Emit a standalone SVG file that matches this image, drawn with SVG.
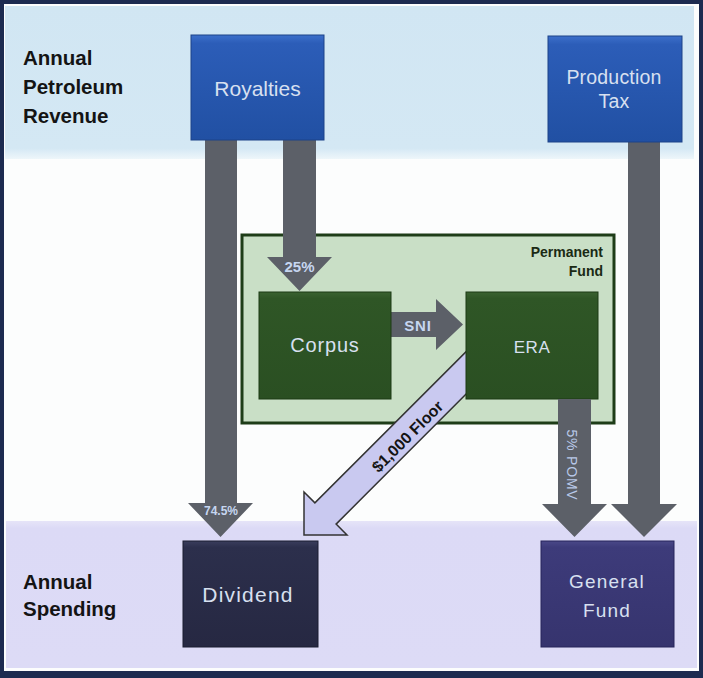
<svg xmlns="http://www.w3.org/2000/svg" width="703" height="678" viewBox="0 0 703 678">
<defs>
<linearGradient id="gBlue" x1="0" y1="0" x2="0" y2="1">
<stop offset="0" stop-color="#3c6fca"/><stop offset="0.08" stop-color="#2c5db8"/><stop offset="1" stop-color="#2150a3"/>
</linearGradient>
<linearGradient id="gGreen" x1="0" y1="0" x2="0" y2="1">
<stop offset="0" stop-color="#3a6230"/><stop offset="0.06" stop-color="#2f5626"/><stop offset="1" stop-color="#2a4f22"/>
</linearGradient>
<linearGradient id="gNavy" x1="0" y1="0" x2="0" y2="1">
<stop offset="0" stop-color="#3a3d5c"/><stop offset="0.06" stop-color="#2c2f4c"/><stop offset="1" stop-color="#262842"/>
</linearGradient>
<linearGradient id="gPurple" x1="0" y1="0" x2="0" y2="1">
<stop offset="0" stop-color="#4a4888"/><stop offset="0.06" stop-color="#3d3b7a"/><stop offset="1" stop-color="#36346e"/>
</linearGradient>
<linearGradient id="gTop" x1="0" y1="0" x2="0" y2="1">
<stop offset="0" stop-color="#d1e6f3"/><stop offset="0.93" stop-color="#d4e8f4"/><stop offset="1" stop-color="#eef6fa"/>
</linearGradient>
<linearGradient id="gBot" x1="0" y1="0" x2="0" y2="1">
<stop offset="0" stop-color="#e6e4f8"/><stop offset="0.05" stop-color="#dcdaf6"/><stop offset="1" stop-color="#dddbf6"/>
</linearGradient>
</defs>
<style>
.lbl{font-family:"Liberation Sans",Arial,sans-serif;font-weight:bold;fill:#141414;font-size:20.5px}
.box{font-family:"Liberation Sans",Arial,sans-serif;text-anchor:middle;fill:#d8e0f0}
.arrow{fill:#5c6068}
.atxt{font-family:"Liberation Sans",Arial,sans-serif;font-weight:bold;text-anchor:middle;fill:#c6d6f0}
</style>
<rect x="0" y="0" width="703" height="678" fill="#1d2b50"/>
<rect x="4" y="4" width="695" height="667" fill="#fcfdfd"/>
<rect x="5" y="6" width="689" height="153" fill="url(#gTop)"/>
<rect x="6" y="521" width="691" height="147" fill="url(#gBot)"/>

<g id="lbl-revenue">
<text class="lbl" x="23" y="65">Annual</text>
<text class="lbl" x="23" y="94">Petroleum</text>
<text class="lbl" x="23" y="123">Revenue</text>
</g>
<g id="lbl-spending">
<text class="lbl" x="23" y="589">Annual</text>
<text class="lbl" x="23" y="616">Spending</text>
</g>

<g id="permanent-fund">
<rect x="242" y="235" width="372" height="188" fill="#c9dfc6" stroke="#1e3d18" stroke-width="3"/>
<text x="603" y="257" text-anchor="end" font-family="Liberation Sans,Arial,sans-serif" font-weight="bold" font-size="14" fill="#1a2a14">Permanent</text>
<text x="603" y="276" text-anchor="end" font-family="Liberation Sans,Arial,sans-serif" font-weight="bold" font-size="14" fill="#1a2a14">Fund</text>
</g>

<g id="connectors">
<path class="arrow" d="M205,140 H237 V503 H253 L220.5,537 L188,503 H205 Z"/>
<path class="arrow" d="M283,140 H316 V257 H332 L299.5,291 L267,257 H283 Z"/>
<path class="arrow" d="M628,142 H660 V504 H677 L644,537 L611,504 H628 Z"/>
<path class="arrow" d="M391,312 H436 V299 L463,324.5 L436,350 V337 H391 Z"/>
<path d="M304,535 L304,492 L314.9,502.9 L474.9,342.9 L496.1,364.1 L336.1,524.1 L347,535 Z" fill="#c9c9f0" stroke="#333" stroke-width="1.5" stroke-linejoin="miter"/>
<text class="atxt" x="221" y="515" font-size="12">74.5%</text>
<text class="atxt" x="299.5" y="272" font-size="15">25%</text>
<text class="atxt" x="418" y="331" font-size="15" letter-spacing="0.8">SNI</text>
<text transform="translate(407.5,436.5) rotate(-45)" x="0" y="5.5" text-anchor="middle" font-family="Liberation Sans,Arial,sans-serif" font-weight="bold" font-size="16" fill="#141414">$1,000 Floor</text>
</g>

<g id="royalties">
<rect x="191" y="35" width="133" height="105" fill="url(#gBlue)" stroke="#1d4288" stroke-width="1"/>
<text class="box" x="257.5" y="96" font-size="21">Royalties</text>
</g>
<g id="production-tax">
<rect x="548" y="36" width="134" height="106" fill="url(#gBlue)" stroke="#1d4288" stroke-width="1"/>
<text class="box" x="614" y="84" font-size="19.5" letter-spacing="0.2">Production</text>
<text class="box" x="614" y="108" font-size="19.5" letter-spacing="0.2">Tax</text>
</g>
<g id="corpus">
<rect x="259" y="292" width="132" height="107" fill="url(#gGreen)" stroke="#1d3a15" stroke-width="1"/>
<text class="box" x="325" y="352" font-size="20" letter-spacing="0.8" fill="#d4dccf">Corpus</text>
</g>
<g id="era">
<rect x="466" y="292" width="132" height="107" fill="url(#gGreen)" stroke="#1d3a15" stroke-width="1"/>
<text class="box" x="532" y="353" font-size="17" letter-spacing="0.5" fill="#d4dccf">ERA</text>
</g>
<path class="arrow" d="M558,399 H591 V504 H607 L574.5,537 L542,504 H558 Z"/>
<text transform="translate(572,465) rotate(90)" x="0" y="5" text-anchor="middle" font-family="Liberation Sans,Arial,sans-serif" font-size="14" letter-spacing="0.8" fill="#b9c9e8">5% POMV</text>
<g id="dividend">
<rect x="183" y="541" width="135" height="106" fill="url(#gNavy)" stroke="#1a1c30" stroke-width="1"/>
<text class="box" x="248" y="602" font-size="21" letter-spacing="1.2" fill="#d8d9e8">Dividend</text>
</g>
<g id="general-fund">
<rect x="541" y="541" width="133" height="106" fill="url(#gPurple)" stroke="#26245a" stroke-width="1"/>
<text class="box" x="607" y="588" font-size="19" letter-spacing="1.2" fill="#d8d8ee">General</text>
<text class="box" x="607" y="617" font-size="19" letter-spacing="1.2" fill="#d8d8ee">Fund</text>
</g>
</svg>
